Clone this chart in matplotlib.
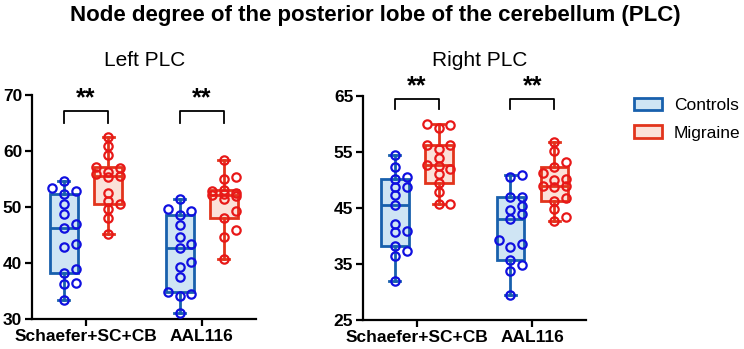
import matplotlib
matplotlib.use('Agg')
import matplotlib.pyplot as plt
from matplotlib.patches import Patch
import numpy as np

plt.rcParams['font.family'] = ['Liberation Sans', 'DejaVu Sans']

atlases = ['Schaefer+SC+CB', 'AAL116']
groups = ['Controls', 'Migraine']

# node degree values
left_controls_schaefer = [33.4, 36.3, 36.5, 38.2, 39.0, 42.9, 43.4, 46.2, 46.9, 48.7, 50.6, 52.4, 52.9, 53.3, 54.7]
left_migraine_schaefer = [45.1, 48.0, 49.6, 50.5, 51.0, 52.5, 55.3, 55.5, 55.9, 56.3, 56.9, 57.2, 59.3, 60.8, 62.5]
left_controls_aal = [31.0, 34.1, 34.5, 34.9, 37.5, 39.2, 40.1, 42.6, 43.3, 44.7, 46.8, 48.6, 49.3, 49.7, 51.4]
left_migraine_aal = [40.7, 44.7, 45.8, 48.0, 49.2, 51.5, 51.9, 52.2, 52.3, 52.5, 52.8, 53.0, 55.0, 55.4, 58.4]

right_controls_schaefer = [32.0, 36.4, 37.4, 38.2, 40.8, 40.9, 42.1, 45.5, 47.3, 48.8, 48.8, 50.1, 50.6, 52.4, 54.5]
right_migraine_schaefer = [45.7, 45.7, 47.9, 49.4, 51.0, 51.9, 52.5, 52.7, 53.9, 55.5, 56.2, 56.3, 59.2, 59.8, 60.0]
right_controls_aal = [29.5, 33.8, 34.8, 35.7, 38.0, 38.6, 39.3, 43.0, 43.9, 44.6, 45.4, 47.0, 47.0, 50.5, 50.9]
right_migraine_aal = [42.6, 43.4, 44.8, 46.3, 46.7, 48.8, 48.9, 48.9, 50.0, 50.1, 51.2, 52.3, 53.3, 55.1, 56.7]

panels = [
    ('Left PLC', [30, 40, 50, 60, 70],
     [[left_controls_schaefer, left_migraine_schaefer], [left_controls_aal, left_migraine_aal]]),
    ('Right PLC', [25, 35, 45, 55, 65],
     [[right_controls_schaefer, right_migraine_schaefer], [right_controls_aal, right_migraine_aal]]),
]

edge_cols = ['#1860ad', '#e2341c']
fill_cols = ['#cfe5f4', '#fbe1d9']
dot_cols = ['#1010e0', '#e81818']


def box_stats(vals):
    v = np.asarray(vals)
    q1, med, q3 = np.percentile(v, [25, 50, 75], method='weibull')
    return dict(med=med, q1=q1, q3=q3, whislo=v.min(), whishi=v.max(), fliers=[])


def swarm(vals, ythr, step):
    # beeswarm limited to three columns: pick the column with least overlap
    order = np.argsort(vals)
    xs = np.zeros(len(vals))
    placed = []
    for i in order:
        y = vals[i]
        best, best_d = 0, -1
        for k in [0, 1, -1]:
            d = min([((k - px) ** 2 + ((y - py) / ythr) ** 2) for (px, py) in placed] + [9.0])
            if d >= 1.0:
                best = k
                break
            if d > best_d:
                best, best_d = k, d
        xs[i] = best
        placed.append((best, y))
    return xs * step


fig = plt.figure(figsize=(7.44, 3.49), dpi=100)
rects = [[0.043, 0.086, 0.301, 0.642], [0.488, 0.083, 0.300, 0.642]]
sub_x = [0.195, 0.645]

for (name, yt, data), rect, sx in zip(panels, rects, sub_x):
    ax = fig.add_axes(rect)
    ymin, ymax = yt[0], yt[-1]
    for a, pair in enumerate(data):
        centre = a + 1
        for g, vals in enumerate(pair):
            pos = centre + (-0.19 if g == 0 else 0.19)
            ec = edge_cols[g]
            ax.bxp([box_stats(vals)], positions=[pos], widths=0.24, capwidths=0.095,
                   patch_artist=True, showfliers=False,
                   boxprops=dict(facecolor=fill_cols[g], edgecolor=ec, linewidth=2.0),
                   whiskerprops=dict(color=ec, linewidth=2.0),
                   capprops=dict(color=ec, linewidth=2.0),
                   medianprops=dict(color=ec, linewidth=2.0))
            v = np.asarray(vals)
            off = swarm(v, 1.3 * (ymax - ymin) / 40, 0.1)
            ax.plot(pos + off, v, 'o', mfc='none', mec=dot_cols[g], mew=1.6, ms=6.0,
                    zorder=5, clip_on=False)
        # significance bracket
        x1, x2 = centre - 0.19, centre + 0.19
        top = ymax - 2.9 if name == 'Left PLC' else ymax - 0.5
        leg = top - 2.2 if name == 'Left PLC' else top - 1.9
        ax.plot([x1, x1, x2, x2], [leg, top, top, leg], color='black', lw=1.3, clip_on=False)
        ax.text(centre, top + 0.1, '**', ha='center', va='bottom', fontsize=18,
                fontweight='bold')

    ax.set_xlim(0.534, 2.466)
    ax.set_ylim(ymin, ymax)
    ax.set_yticks(yt)
    ax.set_xticks([1, 2])
    ax.set_xticklabels(atlases)
    for s in ['top', 'right']:
        ax.spines[s].set_visible(False)
    for s in ['left', 'bottom']:
        ax.spines[s].set_linewidth(1.6)
    ax.tick_params(width=1.6, length=5, labelsize=12.5, pad=2)
    for lab in ax.get_xticklabels() + ax.get_yticklabels():
        lab.set_fontweight('bold')
    fig.text(sx, 0.828, name, ha='center', va='center', fontsize=15)

fig.text(0.504, 0.955, 'Node degree of the posterior lobe of the cerebellum (PLC)',
         ha='center', va='center', fontsize=16, fontweight='bold')

handles = [Patch(facecolor=fill_cols[i], edgecolor=edge_cols[i], linewidth=2.0) for i in range(2)]
fig.legend(handles, groups, loc='upper left', bbox_to_anchor=(0.852, 0.72), frameon=False,
           fontsize=12.5, handlelength=1.6, handleheight=0.75, handletextpad=0.7,
           labelspacing=0.7, borderpad=0, borderaxespad=0)

fig.savefig('out.png', dpi=100)
